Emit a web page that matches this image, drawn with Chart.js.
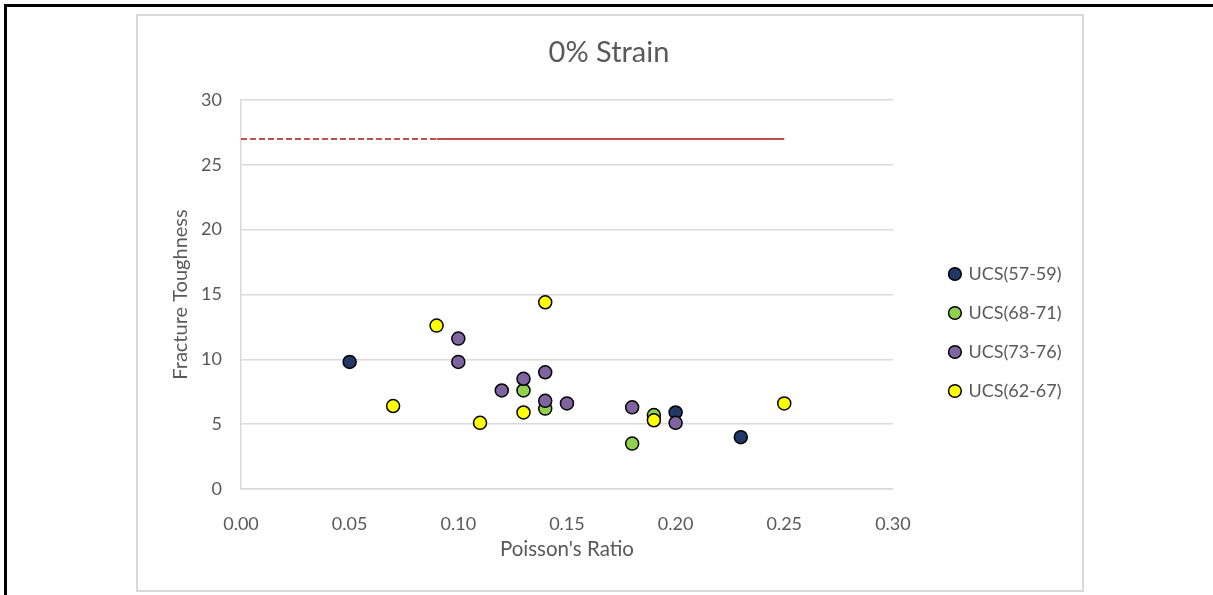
<!DOCTYPE html>
<html>
<head>
<meta charset="utf-8">
<title>0% Strain</title>
<script src="https://cdn.jsdelivr.net/npm/chart.js@4.4.1/dist/chart.umd.min.js"></script>
<style>
  body { margin: 0; background: #fff; }
  #wrap { position: relative; width: 1213px; height: 595px; overflow: hidden; }
  #frame { position: absolute; left: 4px; top: 4px; right: -10px; bottom: -10px;
           border-top: 3px solid #000; border-left: 3px solid #000; }
  #box { position: absolute; left: 136px; top: 14px; width: 944px; height: 574px;
         border: 2px solid #d9d9d9; }
  #grafico { position: absolute; left: 0; top: 0; }
</style>
</head>
<body>
<div id="wrap">
  <div id="frame"></div>
  <div id="box"></div>
  <canvas id="grafico" width="1213" height="595"></canvas>
</div>
<script>
// series: Poisson's ratio (x) and fracture toughness (y)
const ucs5759X = [0.05, 0.20, 0.23];
const ucs5759Y = [9.8, 5.9, 4.0];

const ucs6871X = [0.13, 0.14, 0.18, 0.19];
const ucs6871Y = [7.6, 6.2, 3.5, 5.7];

const ucs7376X = [0.10, 0.10, 0.12, 0.13, 0.14, 0.14, 0.15, 0.18, 0.20];
const ucs7376Y = [11.6, 9.8, 7.6, 8.5, 9.0, 6.8, 6.6, 6.3, 5.1];

const ucs6267X = [0.07, 0.09, 0.11, 0.13, 0.14, 0.19, 0.25];
const ucs6267Y = [6.4, 12.6, 5.1, 5.9, 14.4, 5.3, 6.6];

// horizontal reference line, dashed part first
const linhaX = [0.00, 0.09, 0.25];
const linhaY = [27, 27, 27];

const nomes = ['UCS(57-59)', 'UCS(68-71)', 'UCS(73-76)', 'UCS(62-67)'];
const cores = ['#203864', '#92d050', '#8064a2', '#ffff00'];

const cinza = '#595959';
Chart.defaults.font.family = 'Lato';
Chart.defaults.color = cinza;

function pontos(xs, ys) {
    return xs.map((x, i) => ({ x: x, y: ys[i] }));
}

const series = [
    pontos(ucs5759X, ucs5759Y),
    pontos(ucs6871X, ucs6871Y),
    pontos(ucs7376X, ucs7376Y),
    pontos(ucs6267X, ucs6267Y)
];

// later series sit on top, like the spreadsheet does it
const datasets = series.map((dados, i) => ({
    label: nomes[i],
    data: dados,
    backgroundColor: cores[i],
    borderColor: '#000',
    borderWidth: 1.5,
    pointRadius: 6.5,
    pointStyle: 'circle',
    order: series.length - i
}));

datasets.push({
    label: 'limite',
    data: pontos(linhaX, linhaY),
    showLine: true,
    borderColor: '#c0504d',
    borderWidth: 2,
    pointRadius: 0,
    order: 10,
    segment: {
        borderDash: ctx => ctx.p0DataIndex === 0 ? [6, 3] : undefined
    }
});

const chart = new Chart(document.getElementById('grafico'), {
    type: 'scatter',
    data: { datasets: datasets },
    options: {
        responsive: false,
        animation: false,
        events: [],
        layout: { padding: { top: 30, left: 146.5, right: 141.5, bottom: 20 } },
        plugins: {
            title: {
                display: true,
                text: '0% Strain',
                color: cinza,
                font: { size: 29, weight: 'normal' },
                padding: { top: 5.6, bottom: 29.6 }
            },
            legend: {
                position: 'right',
                fullSize: false,
                title: { display: true, text: '', font: { size: 10 }, padding: { top: 64, bottom: 0 } },
                labels: {
                    usePointStyle: true,
                    boxWidth: 9,
                    boxHeight: 9,
                    padding: 21,
                    color: cinza,
                    font: { size: 18 },
                    filter: item => item.datasetIndex < 4,
                    sort: (a, b) => a.datasetIndex - b.datasetIndex
                }
            },
            tooltip: { enabled: false }
        },
        scales: {
            x: {
                type: 'linear',
                min: 0,
                max: 0.30,
                grid: { display: false },
                border: { display: true, color: '#d9d9d9', width: 1.5 },
                ticks: {
                    stepSize: 0.05,
                    padding: 16,
                    color: cinza,
                    font: { size: 18 },
                    callback: v => v.toFixed(2)
                },
                title: {
                    display: true,
                    text: "Poisson's Ratio",
                    color: cinza,
                    font: { size: 20.5 },
                    padding: { top: 0, bottom: 13 }
                },
                afterFit: s => { s.height = 86; }
            },
            y: {
                type: 'linear',
                min: 0,
                max: 30,
                grid: { color: '#d9d9d9', lineWidth: 1.5, drawTicks: false },
                border: { display: true, color: '#d9d9d9', width: 1.5 },
                ticks: { stepSize: 5, padding: 19, color: cinza, font: { size: 18 } },
                title: {
                    display: true,
                    text: 'Fracture Toughness',
                    color: cinza,
                    font: { size: 20 },
                    padding: { top: 22.5, bottom: 0 }
                },
                afterFit: s => { s.width = 94.5; }
            },
            // empty strip between the plot and the legend
            folga: {
                type: 'linear',
                position: 'right',
                display: true,
                grid: { display: false },
                border: { display: false },
                ticks: { display: false },
                afterFit: s => { s.width = 36.5; }
            }
        }
    }
});
</script>
</body>
</html>
